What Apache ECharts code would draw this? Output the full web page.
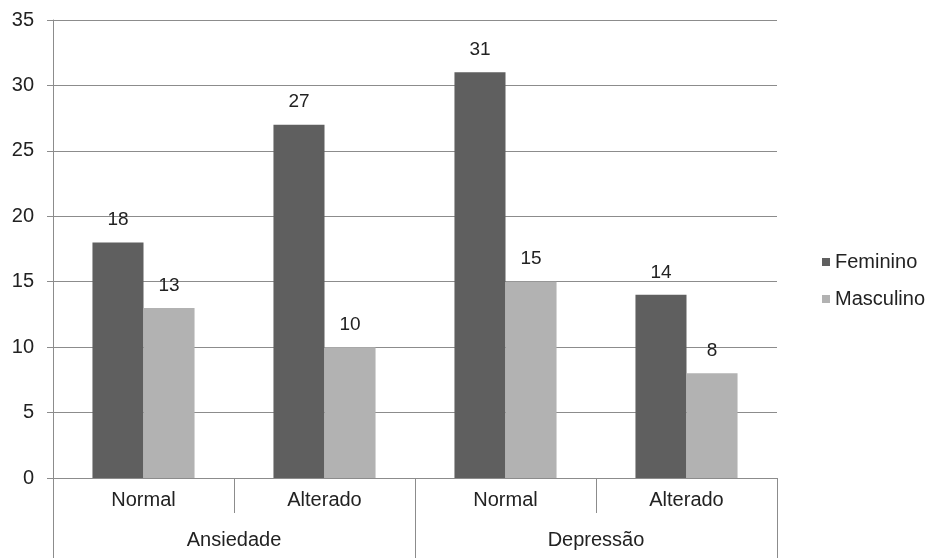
<!DOCTYPE html>
<html><head><meta charset="utf-8">
<script src="https://cdn.jsdelivr.net/npm/echarts@6/dist/echarts.min.js"></script>
<style>html,body{margin:0;padding:0;background:#fff}#c{width:932px;height:558px}</style>
</head><body><div id="c"></div>
<script>
const categories = ['Normal', 'Alterado', 'Normal', 'Alterado'];
const groups = ['Ansiedade', 'Depressão'];
const feminino = [18, 27, 31, 14];
const masculino = [13, 10, 15, 8];
const seriesNames = ['Feminino', 'Masculino'];

const chart = echarts.init(document.getElementById('c'));
const font = 'Liberation Sans';
const lineColor = '#8c8c8c';
const textColor = '#222';
chart.setOption({
  animation: false,
  backgroundColor: '#fff',
  grid: { left: 53, right: 155, top: 20, bottom: 80 },
  legend: {
    orient: 'vertical', left: 817, top: 247,
    itemWidth: 8, itemHeight: 8, itemGap: 17,
    icon: 'rect',
    textStyle: { fontFamily: font, fontSize: 20, color: textColor },
    data: seriesNames
  },
  xAxis: [
    {
      type: 'category', data: categories, position: 'bottom',
      axisLine: { lineStyle: { color: lineColor } },
      axisTick: { show: true, length: 35, interval: 0, alignWithLabel: false, lineStyle: { color: lineColor } },
      axisLabel: { interval: 0, margin: 12, fontFamily: font, fontSize: 20, color: textColor }
    },
    {
      type: 'category', data: groups, position: 'bottom',
      axisLine: { show: false },
      axisTick: { show: true, length: 80, interval: 0, lineStyle: { color: lineColor } },
      axisLabel: { interval: 0, margin: 52, fontFamily: font, fontSize: 20, color: textColor }
    }
  ],
  yAxis: {
    type: 'value', min: 0, max: 35, interval: 5,
    axisLine: { show: true, lineStyle: { color: lineColor } },
    axisTick: { show: true, length: 6, lineStyle: { color: lineColor } },
    axisLabel: { margin: 19, fontFamily: font, fontSize: 20, color: textColor },
    splitLine: { lineStyle: { color: lineColor, width: 1 } }
  },
  series: [
    {
      name: seriesNames[0], type: 'bar', data: feminino, xAxisIndex: 0,
      barGap: '0%', barCategoryGap: '43.6%',
      itemStyle: { color: '#5f5f5f' },
      label: { show: true, position: 'top', distance: 13, fontFamily: font, fontSize: 19, color: textColor }
    },
    {
      name: seriesNames[1], type: 'bar', data: masculino, xAxisIndex: 0,
      barGap: '0%', barCategoryGap: '43.6%',
      itemStyle: { color: '#b2b2b2' },
      label: { show: true, position: 'top', distance: 13, fontFamily: font, fontSize: 19, color: textColor }
    }
  ]
});
</script></body></html>
